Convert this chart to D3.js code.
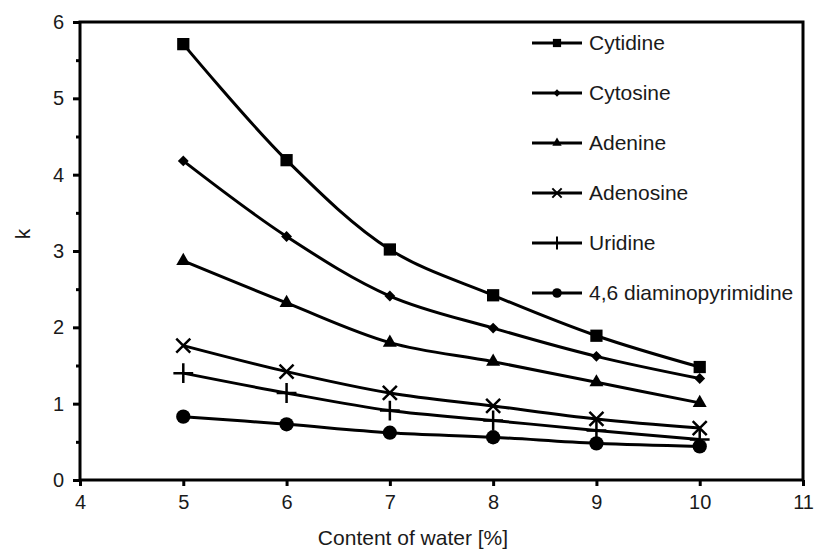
<!DOCTYPE html>
<html>
<head>
<meta charset="utf-8">
<script src="https://cdn.jsdelivr.net/npm/d3@7"></script>
<style>
  body { margin: 0; background: #fff; }
  svg { display: block; }
  text { font-family: "Liberation Sans", Arial, sans-serif; fill: #1a1a1a; }
</style>
</head>
<body>
<svg id="chart" width="817" height="550"></svg>
<script>
// ---- data ----
const waterContent = [5, 6, 7, 8, 9, 10];
const seriesNames = ["Cytidine", "Cytosine", "Adenine", "Adenosine", "Uridine", "4,6 diaminopyrimidine"];
const cytidine   = [5.71, 4.19, 3.02, 2.42, 1.89, 1.48];
const cytosine   = [4.18, 3.19, 2.41, 1.99, 1.62, 1.33];
const adenine    = [2.87, 2.32, 1.80, 1.55, 1.28, 1.01];
const adenosine  = [1.76, 1.42, 1.14, 0.97, 0.80, 0.68];
const uridine    = [1.40, 1.14, 0.91, 0.78, 0.65, 0.53];
const diaminopyrimidine = [0.83, 0.73, 0.62, 0.56, 0.48, 0.44];
const xTicks = [4, 5, 6, 7, 8, 9, 10, 11];
const yTicks = [0, 1, 2, 3, 4, 5, 6];
const yMinorTicks = [0.5, 1.5, 2.5, 3.5, 4.5, 5.5];
const xTitle = "Content of water [%]";
const yTitle = "k";

const seriesValues = [cytidine, cytosine, adenine, adenosine, uridine, diaminopyrimidine];
const markerKinds = ["square", "diamond", "triangle", "x", "plus", "circle"];

// ---- layout ----
const svg = d3.select("#chart");
const x = d3.scaleLinear().domain([4, 11]).range([80, 803]);
const y = d3.scaleLinear().domain([0, 6]).range([480, 22]);
const axisW = 3;

function symbolFor(kind, big) {
  const s = big ? 1 : 0.45;
  switch (kind) {
    case "square":   return { type: d3.symbolSquare,   size: 150 * s, fill: true };
    case "diamond":  return { type: d3.symbolDiamond2, size: 75 * s,  fill: true };
    case "triangle": return { type: d3.symbolTriangle, size: 85 * s,  fill: true };
    case "x":        return { type: d3.symbolX,        size: 130 * s, fill: false };
    case "plus":     return { type: d3.symbolPlus,     size: 130 * s, fill: false };
    case "circle":   return { type: d3.symbolCircle,   size: 160 * s, fill: true };
  }
}

// ---- axes ----
const xAxis = d3.axisBottom(x).tickValues(xTicks).tickSize(6).tickSizeOuter(0).tickPadding(8).tickFormat(d3.format("d"));
const gx = svg.append("g").attr("transform", `translate(0,${y(0)})`).call(xAxis);
gx.select(".domain").remove();
gx.selectAll(".tick line").attr("stroke", "#000").attr("stroke-width", axisW);
gx.selectAll(".tick text").attr("font-size", 20).attr("dy", "0.75em");

const yAxis = d3.axisLeft(y).tickValues(yTicks).tickSize(7).tickSizeOuter(0).tickPadding(9).tickFormat(d3.format("d"));
const gy = svg.append("g").attr("transform", `translate(${x(4)},0)`).call(yAxis);
gy.select(".domain").remove();
gy.selectAll(".tick line").attr("stroke", "#000").attr("stroke-width", axisW);
gy.selectAll(".tick text").attr("font-size", 20);

const yMinor = d3.axisLeft(y).tickValues(yMinorTicks).tickSize(4).tickFormat("");
const gym = svg.append("g").attr("transform", `translate(${x(4)},0)`).call(yMinor);
gym.select(".domain").remove();
gym.selectAll(".tick line").attr("stroke", "#000").attr("stroke-width", axisW);

// frame
svg.append("rect")
  .attr("x", x(4)).attr("y", y(6))
  .attr("width", x(11) - x(4)).attr("height", y(0) - y(6))
  .attr("fill", "none").attr("stroke", "#000").attr("stroke-width", axisW);

// titles
svg.append("text").attr("x", 413).attr("y", 545)
  .attr("text-anchor", "middle").attr("font-size", 21).text(xTitle);
svg.append("text").attr("transform", `translate(30,234) rotate(-90)`)
  .attr("text-anchor", "middle").attr("font-size", 21).text(yTitle);

// ---- series ----
const line = d3.line().x((d, i) => x(waterContent[i])).y(d => y(d)).curve(d3.curveCatmullRom.alpha(0.5));
seriesValues.forEach((vals, si) => {
  const g = svg.append("g");
  g.append("path").attr("d", line(vals)).attr("fill", "none").attr("stroke", "#000").attr("stroke-width", 3);
  const sym = symbolFor(markerKinds[si], true);
  g.selectAll("path.m").data(vals).enter().append("path").attr("class", "m")
    .attr("transform", (d, i) => `translate(${x(waterContent[i])},${y(d)})`)
    .attr("d", d3.symbol().type(sym.type).size(sym.size))
    .attr("fill", sym.fill ? "#000" : "none")
    .attr("stroke", "#000").attr("stroke-width", sym.fill ? 0 : 2.5);
});

// ---- legend ----
const legend = svg.append("g");
seriesNames.forEach((name, i) => {
  const ly = 43 + i * 50;
  const g = legend.append("g").attr("transform", `translate(532,${ly})`);
  g.append("line").attr("x1", 0).attr("x2", 50).attr("y1", 0).attr("y2", 0)
    .attr("stroke", "#000").attr("stroke-width", 3);
  const sym = symbolFor(markerKinds[i], false);
  g.append("path").attr("transform", "translate(25,0)")
    .attr("d", d3.symbol().type(sym.type).size(sym.size))
    .attr("fill", sym.fill ? "#000" : "none")
    .attr("stroke", "#000").attr("stroke-width", sym.fill ? 0 : 2);
  g.append("text").attr("x", 57).attr("y", 0).attr("dy", "0.35em")
    .attr("font-size", 21).text(name);
});
</script>
</body>
</html>
